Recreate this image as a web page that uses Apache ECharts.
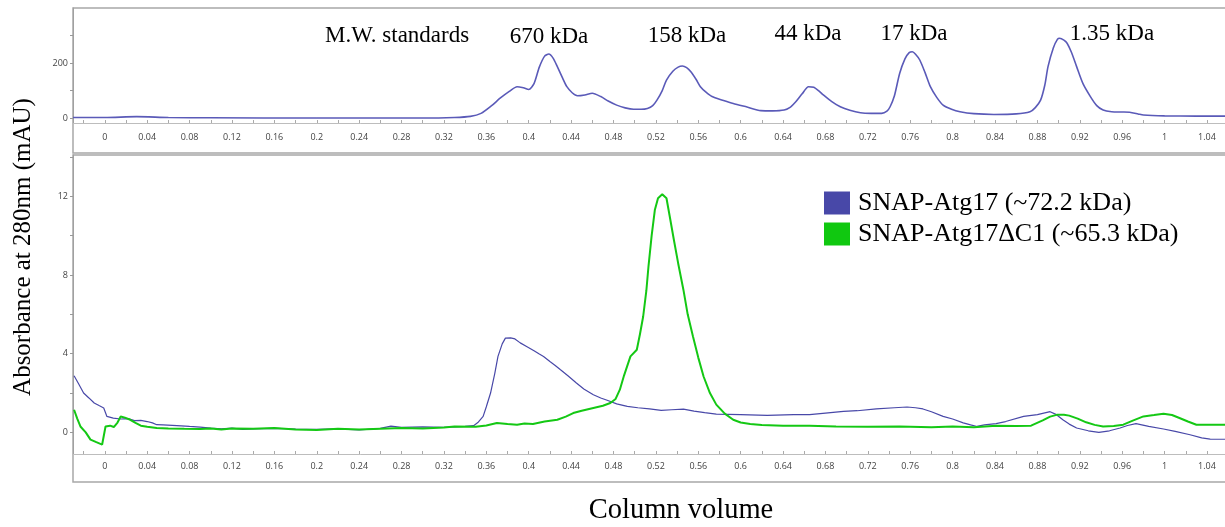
<!DOCTYPE html>
<html><head><meta charset="utf-8">
<script src="https://cdn.jsdelivr.net/npm/echarts@6/dist/echarts.min.js"></script>
<style>html,body{margin:0;padding:0;background:#fff}#c{width:1225px;height:527px}</style>
</head><body><div id="c"></div>
<script>
// ---- Data ----
var stdX = [-0.03,0.0,0.03,0.06,0.1,0.2,0.3,0.33,0.345,0.355,0.365,0.373,0.382,0.389,0.395,0.40,0.405,0.41,0.415,0.419,0.423,0.427,0.432,0.436,0.441,0.446,0.453,0.46,0.468,0.475,0.483,0.491,0.499,0.506,0.512,0.517,0.521,0.526,0.53,0.536,0.541,0.545,0.549,0.553,0.558,0.562,0.567,0.573,0.583,0.593,0.606,0.619,0.63,0.641,0.647,0.652,0.658,0.664,0.669,0.674,0.678,0.686,0.694,0.703,0.713,0.723,0.733,0.738,0.741,0.745,0.75,0.755,0.759,0.762,0.765,0.769,0.774,0.779,0.785,0.791,0.799,0.807,0.82,0.839,0.86,0.873,0.878,0.883,0.887,0.89,0.895,0.899,0.901,0.905,0.908,0.912,0.917,0.923,0.93,0.936,0.942,0.95,0.96,0.967,0.975,0.98,1.0,1.03,1.057];
var stdY = [2,2,5,2,1,0,0,2,6,17,45,72,98,114,110,104,125,185,225,233,218,187,145,114,92,81,84,90,78,62,47,37,32,32,35,45,65,100,138,170,185,189,183,168,140,114,95,78,65,53,40,27,26,29,40,59,88,114,112,98,84,60,41,28,19,17,17,25,41,80,162,215,238,241,232,211,165,114,75,47,32,23,16,13,15,23,38,65,120,187,255,287,290,283,272,240,187,125,78,45,29,23,22,21,15,11,8,7,7];

var atg17X = [-0.029,-0.025,-0.02,-0.015,-0.01,-0.005,-0.001,0.0,0.002,0.008,0.015,0.022,0.028,0.034,0.04,0.045,0.049,0.055,0.068,0.08,0.09,0.1,0.11,0.12,0.13,0.14,0.16,0.18,0.2,0.22,0.24,0.26,0.27,0.28,0.3,0.32,0.34,0.348,0.352,0.357,0.36,0.364,0.368,0.371,0.375,0.378,0.383,0.387,0.392,0.398,0.405,0.41,0.414,0.42,0.425,0.43,0.437,0.445,0.452,0.461,0.468,0.474,0.483,0.493,0.503,0.514,0.525,0.535,0.546,0.556,0.566,0.577,0.6,0.625,0.65,0.665,0.68,0.697,0.71,0.728,0.745,0.757,0.765,0.772,0.78,0.791,0.8,0.81,0.817,0.823,0.83,0.841,0.85,0.867,0.88,0.892,0.898,0.904,0.91,0.917,0.928,0.938,0.948,0.958,0.965,0.973,0.985,0.999,1.01,1.024,1.035,1.043,1.057];
var atg17Y = [2.88,2.5,2.0,1.75,1.49,1.35,1.24,1.2,0.81,0.72,0.68,0.7,0.6,0.61,0.55,0.48,0.39,0.38,0.34,0.3,0.27,0.22,0.18,0.22,0.15,0.18,0.2,0.17,0.15,0.18,0.12,0.2,0.32,0.25,0.28,0.25,0.3,0.34,0.5,0.81,1.3,2.0,3.0,3.86,4.5,4.79,4.8,4.75,4.55,4.37,4.15,3.98,3.86,3.6,3.4,3.18,2.88,2.51,2.2,1.91,1.75,1.63,1.45,1.32,1.25,1.19,1.12,1.15,1.18,1.08,1.0,0.93,0.9,0.86,0.9,0.9,0.98,1.07,1.1,1.19,1.25,1.29,1.25,1.19,1.05,0.81,0.68,0.48,0.38,0.3,0.38,0.44,0.55,0.81,0.9,1.05,0.9,0.64,0.42,0.22,0.08,0.0,0.08,0.22,0.35,0.44,0.3,0.17,0.05,-0.12,-0.28,-0.34,-0.35];

var dc1X = [-0.029,-0.026,-0.023,-0.018,-0.0135,-0.008,-0.0025,-0.001,0.0007,0.005,0.0085,0.012,0.015,0.019,0.024,0.029,0.034,0.04,0.049,0.06,0.075,0.09,0.1,0.11,0.12,0.14,0.16,0.18,0.2,0.22,0.24,0.26,0.28,0.3,0.32,0.33,0.35,0.36,0.37,0.38,0.389,0.396,0.404,0.415,0.427,0.435,0.442,0.45,0.461,0.47,0.477,0.482,0.486,0.49,0.496,0.502,0.505,0.508,0.511,0.513,0.516,0.519,0.522,0.526,0.53,0.533,0.537,0.541,0.546,0.55,0.555,0.56,0.565,0.571,0.577,0.585,0.593,0.6,0.609,0.62,0.64,0.665,0.69,0.72,0.75,0.78,0.8,0.82,0.841,0.86,0.874,0.885,0.892,0.899,0.905,0.91,0.918,0.926,0.934,0.942,0.952,0.961,0.97,0.98,0.99,0.999,1.007,1.014,1.022,1.03,1.045,1.057];
var dc1Y = [1.15,0.7,0.3,0.0,-0.37,-0.5,-0.62,-0.55,0.3,0.34,0.27,0.5,0.81,0.75,0.64,0.48,0.34,0.28,0.22,0.2,0.18,0.17,0.2,0.15,0.2,0.18,0.22,0.15,0.12,0.18,0.14,0.18,0.22,0.2,0.25,0.3,0.28,0.35,0.48,0.42,0.39,0.45,0.43,0.55,0.64,0.8,0.98,1.1,1.24,1.35,1.49,1.7,2.17,2.9,3.86,4.2,5.0,5.89,7.2,8.43,10.0,11.3,11.9,12.1,11.9,11.0,9.78,8.6,7.24,6.0,4.87,3.8,2.84,2.0,1.41,0.95,0.64,0.5,0.43,0.38,0.34,0.34,0.3,0.28,0.3,0.26,0.3,0.26,0.34,0.32,0.34,0.61,0.8,0.9,0.9,0.85,0.7,0.51,0.38,0.3,0.32,0.39,0.6,0.81,0.88,0.95,0.88,0.73,0.55,0.39,0.39,0.39];

var xLabelValues = [0,0.04,0.08,0.12,0.16,0.2,0.24,0.28,0.32,0.36,0.4,0.44,0.48,0.52,0.56,0.6,0.64,0.68,0.72,0.76,0.8,0.84,0.88,0.92,0.96,1,1.04];
var xTickValues = [-0.02,0,0.02,0.04,0.06,0.08,0.1,0.12,0.14,0.16,0.18,0.2,0.22,0.24,0.26,0.28,0.3,0.32,0.34,0.36,0.38,0.4,0.42,0.44,0.46,0.48,0.5,0.52,0.54,0.56,0.58,0.6,0.62,0.64,0.66,0.68,0.7,0.72,0.74,0.76,0.78,0.8,0.82,0.84,0.86,0.88,0.9,0.92,0.94,0.96,0.98,1,1.02,1.04];
var topYLabels = [0,200];
var topYTicks = [0,100,200,300];
var botYLabels = [0,4,8,12];
var botYTicks = [0,2,4,6,8,10,12,14];

var stdNames = ['M.W. standards','670 kDa','158 kDa','44 kDa','17 kDa','1.35 kDa'];
var seriesNames = ['SNAP-Atg17 (~72.2 kDa)','SNAP-Atg17\u0394C1 (~65.3 kDa)'];

function zip(a,b){return a.map(function(v,i){return [v,b[i]];});}
function fmt(v){return String(Number(Number(v).toFixed(2)));}

var tickFont = {fontFamily:'Open Sans', fontSize:9, color:'#444'};
var serif = 'Liberation Serif';

function xAxis(gi, margin){
  return {type:'value', gridIndex:gi, min:-0.03, max:1.057,
    axisLine:{show:true, onZero:false, lineStyle:{color:'#bdbdbd', width:1}},
    axisTick:{show:true, inside:true, length:3, customValues:xTickValues, lineStyle:{color:'#aaa'}},
    axisLabel:Object.assign({customValues:xLabelValues, formatter:fmt, margin:margin}, tickFont),
    splitLine:{show:false}};
}
function yAxis(gi, mn, mx, ticks, labels){
  return {type:'value', gridIndex:gi, min:mn, max:mx,
    axisLine:{show:true, onZero:false, lineStyle:{color:'#a0a0a0', width:1}},
    axisTick:{show:true, inside:false, length:3, customValues:ticks, lineStyle:{color:'#999'}},
    axisLabel:Object.assign({customValues:labels, margin:5}, tickFont),
    splitLine:{show:false}};
}

var stdPos = [[325,47],[549,48],[687,47],[808,45],[914,45],[1112,45]];
var graphics = [
  {type:'rect', shape:{x:73,y:8,width:1170,height:145}, style:{fill:'none', stroke:'#a8a8a8', lineWidth:1.5}, z:-1},
  {type:'rect', shape:{x:73,y:155,width:1170,height:327}, style:{fill:'none', stroke:'#a8a8a8', lineWidth:1.5}, z:-1},
  {type:'text', x:23, y:247, rotation:Math.PI/2, style:{text:'Absorbance at 280nm (mAU)', font:'25px "Liberation Serif"', fill:'#000', textAlign:'center', textVerticalAlign:'middle'}},
  {type:'text', x:681, y:511, style:{text:'Column volume', font:'28.5px "Liberation Serif"', fill:'#000', textAlign:'center', textVerticalAlign:'middle'}}
];
stdNames.forEach(function(n,i){
  graphics.push({type:'text', x:stdPos[i][0], y:stdPos[i][1], style:{text:n, font:'23px "Liberation Serif"', fill:'#000', textAlign:i===0?'left':'center', textVerticalAlign:'bottom'}});
});

var chart = echarts.init(document.getElementById('c'), null, {renderer:'canvas'});
chart.setOption({
  animation:false,
  backgroundColor:'#fff',
  grid:[
    {left:73, right:0, top:8, height:115},
    {left:73, right:0, top:155, height:299}
  ],
  xAxis:[xAxis(0,10), xAxis(1,8)],
  yAxis:[yAxis(0,-18,400,topYTicks,topYLabels), yAxis(1,-1.1,14.1,botYTicks,botYLabels)],
  legend:{show:true, orient:'vertical', left:819, top:185, itemWidth:26, itemHeight:23, itemGap:5,
    icon:'rect', data:seriesNames,
    textStyle:{fontFamily:serif, fontSize:26, color:'#000', padding:[0,0,0,3]}},
  graphic:graphics,
  series:[
    {name:'M.W. standards', type:'line', xAxisIndex:0, yAxisIndex:0, data:zip(stdX,stdY), showSymbol:false, smooth:0.25,
      lineStyle:{color:'#5a5ab8', width:1.6}, itemStyle:{color:'#5a5ab8'}},
    {name:seriesNames[0], type:'line', xAxisIndex:1, yAxisIndex:1, data:zip(atg17X,atg17Y), showSymbol:false,
      lineStyle:{color:'#4848a8', width:1.2}, itemStyle:{color:'#4848a8'}},
    {name:seriesNames[1], type:'line', xAxisIndex:1, yAxisIndex:1, data:zip(dc1X,dc1Y), showSymbol:false,
      lineStyle:{color:'#14c814', width:2}, itemStyle:{color:'#10c810'}}
  ]
});
</script>
</body></html>
